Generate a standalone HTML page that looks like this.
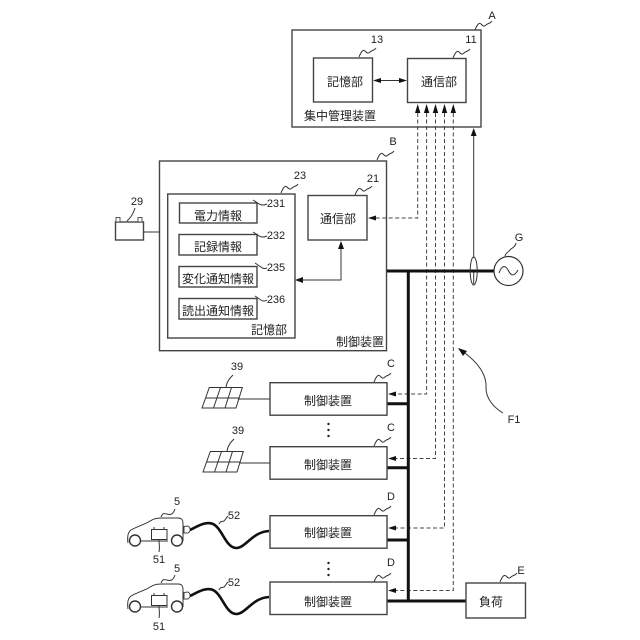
<!DOCTYPE html>
<html><head><meta charset="utf-8">
<style>
html,body{margin:0;padding:0;background:#fff;width:640px;height:640px;overflow:hidden}
svg{display:block}
text{fill:#222}
.j{font-family:"Liberation Sans","Noto Sans CJK JP",sans-serif;font-size:12px;text-anchor:middle}
.n{font-family:"Liberation Sans",sans-serif;font-size:11px;text-anchor:middle}
.b{fill:#fff;stroke:#444;stroke-width:1.4}
.l{fill:none;stroke:#333;stroke-width:1}
.t{fill:none;stroke:#111;stroke-width:3}
.d{fill:none;stroke:#444;stroke-width:1;stroke-dasharray:4 2.5}
.a{fill:#111;stroke:none}
.c{fill:none;stroke:#111;stroke-width:2.6}
</style></head><body>
<svg width="640" height="640" viewBox="0 0 640 640" xmlns="http://www.w3.org/2000/svg">
<defs>
<rect id="dev" class="b" x="270" y="0" width="117" height="32.5"/>
<path id="w" class="l" d="M0 0C2 -5 4 -8 6 -6C8 -4 9 -3 11 -5C13 -7 15 -6 17 -9"/>
<g id="solar"><path class="l" stroke-width="1.1" d="M209.3 387.5H242.3L236 408H202ZM205.8 398H239M220.5 387.5L213.5 408M231.5 387.5L225 408"/></g>
<g id="car">
<path class="l" stroke-width="1.1" d="M128 543C127 536 128 532 131 530C138 526 146 524 150 521C155 518 158 518 163 518L178 518C182 518 183 520 183 524L183 541"/>
<path class="l" d="M137 541H168"/>
<circle cx="135" cy="540.500" r="5.500" fill="#fff" stroke="#333" stroke-width="1.4"/>
<circle cx="177" cy="540.500" r="5.500" fill="#fff" stroke="#333" stroke-width="1.4"/>
<rect x="151.500" y="529.500" width="15.500" height="10" fill="#fff" stroke="#333" stroke-width="1"/>
<path class="l" d="M154 529.500V527M164 529.500V527M159 539.500C159 544 160 547 159 552"/>
<path fill="#fff" stroke="#444" stroke-width="1" d="M184 526.500L188 526C191 528 191 531 188 533L184 533Z"/>
<path class="c" d="M190 530C198 526 206 521 213 524C222 528 226 548 236 548C246 548 252 532 269 531"/>
<path class="l" d="M161 517C163 512 165 514 167 514C170 515 173 515 175 509"/>
<path class="l" d="M219 524C221 520 222 522 224 521C226 519 226 518 228 516"/>
</g>
</defs>

<!-- A -->
<rect class="b" x="292" y="30" width="189" height="97"/>
<rect class="b" x="313.500" y="58" width="59" height="44"/>
<rect class="b" x="407.500" y="58.500" width="58.500" height="44"/>
<text class="j" x="345" y="86">記憶部</text>
<text class="j" x="439" y="86">通信部</text>
<text class="j" x="340" y="120">集中管理装置</text>
<text class="n" x="492" y="19">A</text>
<text class="n" x="377" y="43">13</text>
<text class="n" x="471" y="43">11</text>
<use href="#w" x="475" y="30"/>
<use href="#w" x="359" y="57"/>
<use href="#w" x="453" y="58"/>
<use href="#w" x="377" y="160"/>
<path class="l" stroke-width="1.2" d="M376 80.500H404"/>
<path class="a" d="M373 80.500L381 78V83ZM407 80.500L399 78V83Z"/>

<!-- B -->
<rect class="b" x="159.500" y="161" width="227" height="189.700"/>
<rect class="b" x="167.700" y="194" width="127.300" height="144"/>
<rect class="b" x="308" y="195.500" width="59" height="44.500"/>
<text class="j" x="338" y="223">通信部</text>
<rect class="b" x="179.500" y="203" width="77.500" height="20"/>
<rect class="b" x="179" y="234.500" width="78" height="20.500"/>
<rect class="b" x="179" y="266.500" width="78" height="20.500"/>
<rect class="b" x="179" y="298.500" width="78" height="20.500"/>
<text class="j" x="218" y="220">電力情報</text>
<text class="j" x="218" y="251">記録情報</text>
<text class="j" x="218" y="283">変化通知情報</text>
<text class="j" x="218" y="315">読出通知情報</text>
<text class="j" x="269" y="334">記憶部</text>
<text class="j" x="360" y="346">制御装置</text>
<text class="n" x="393" y="145">B</text>
<text class="n" x="300" y="179">23</text>
<text class="n" x="373" y="182">21</text>
<text class="n" x="276" y="207">231</text>
<text class="n" x="276" y="239">232</text>
<text class="n" x="276" y="271">235</text>
<text class="n" x="276" y="303">236</text>
<text class="n" x="137" y="205">29</text>
<use href="#w" x="281" y="193"/>
<use href="#w" x="355" y="195"/>
<path class="l" stroke="#666" d="M253 200C258 203 261 207 267 204M253 232C258 235 261 239 267 236M255 263C260 266 263 270 267 268M255 296C260 299 263 303 267 300"/>
<path class="l" stroke-width="1.2" d="M300 280H341V248"/>
<path class="a" d="M295 280L303 277V283ZM341 241L338 249H344Z"/>

<!-- dashed -->
<path class="d" d="M417.700 113V218H375"/>
<path class="d" d="M426.600 113V394H394"/>
<path class="d" d="M435.500 113V458.500H394"/>
<path class="d" d="M444.500 113V528H394"/>
<path class="d" d="M453.300 113V590.500H394"/>
<path class="a" d="M417.700 104L415 113H420.400ZM426.600 104L423.900 113H429.300ZM435.500 104L432.800 113H438.200ZM444.500 104L441.800 113H447.200ZM453.300 104L450.600 113H456Z"/>
<path class="l" stroke-width="1.1" d="M473.700 134V258M473.700 284V271"/>
<path class="a" d="M473.700 128L470.800 136H476.600Z"/>
<path class="a" d="M368 218L376 215.500V220.500ZM388 394L396 391.500V396.500ZM388 458.500L396 456V461ZM388 528L396 525.500V530.500ZM388 590.500L396 588V593Z"/>

<!-- battery 29 -->
<rect class="b" x="115.500" y="222" width="28" height="18"/>
<rect x="116" y="217.500" width="4" height="4.500" fill="#fff" stroke="#444" stroke-width=".9"/>
<rect x="138" y="217.500" width="4" height="4.500" fill="#fff" stroke="#444" stroke-width=".9"/>
<path class="l" d="M143.500 232H159.500M127 221C130 218 133 215 135 208"/>

<!-- bus -->
<path class="t" d="M387 271H494"/>
<path class="t" d="M408.300 270V602"/>
<path class="t" d="M387 403.700H408M387 467.700H408M387 540H408M387 601H466"/>
<ellipse cx="473.700" cy="271" rx="3.500" ry="14" fill="none" stroke="#333" stroke-width="1"/>
<circle cx="508.500" cy="271" r="14.500" fill="#fff" stroke="#333" stroke-width="1.2"/>
<path class="l" d="M499 273C502 265 505 265 508 270C511 276 514 277 518 270"/>
<path class="l" d="M505 256C506 252 509 252 510 250C511 248 515 248 516 243"/>
<text class="n" x="519" y="241">G</text>

<!-- F1 -->
<path class="l" stroke-width="1.1" d="M503 413C493 407 486 398 486 388C487 375 478 362 462 351"/>
<path class="a" d="M458 348L467 351L463 356Z"/>
<text class="n" x="514" y="423">F1</text>

<!-- C -->
<use href="#dev" y="382.700"/>
<use href="#dev" y="446.700"/>
<text class="j" x="328" y="405">制御装置</text>
<text class="j" x="328" y="469">制御装置</text>
<use href="#solar"/>
<use href="#solar" x="1" y="64"/>
<path class="l" d="M238 399H270M240 463H270"/>
<path class="l" d="M226 387C227 381 230 378 233 375M227 451C228 445 231 442 234 439"/>
<text class="n" x="237" y="370">39</text>
<text class="n" x="238" y="434">39</text>
<use href="#w" x="374" y="382"/>
<use href="#w" x="374" y="446"/>
<text class="n" x="391" y="367">C</text>
<text class="n" x="391" y="431">C</text>
<circle cx="328.500" cy="424" r="1.200" fill="#222"/><circle cx="328.500" cy="430" r="1.200" fill="#222"/><circle cx="328.500" cy="436" r="1.200" fill="#222"/>

<!-- D -->
<use href="#dev" y="515.700"/>
<use href="#dev" y="582"/>
<text class="j" x="328" y="537">制御装置</text>
<text class="j" x="328" y="606">制御装置</text>
<use href="#car"/>
<use href="#car" y="66"/>
<text class="n" x="177" y="505">5</text>
<text class="n" x="177" y="572">5</text>
<text class="n" x="234" y="519">52</text>
<text class="n" x="234" y="586">52</text>
<text class="n" x="159" y="563">51</text>
<text class="n" x="159" y="630">51</text>
<use href="#w" x="374" y="515"/>
<use href="#w" x="374" y="582"/>
<text class="n" x="391" y="500">D</text>
<text class="n" x="391" y="566">D</text>
<circle cx="328.500" cy="563" r="1.200" fill="#222"/><circle cx="328.500" cy="569" r="1.200" fill="#222"/><circle cx="328.500" cy="575" r="1.200" fill="#222"/>

<!-- E -->
<rect class="b" x="466" y="583" width="59.500" height="35"/>
<text class="j" x="491" y="606">負荷</text>
<use href="#w" x="500" y="582"/>
<text class="n" x="521" y="574">E</text>
</svg>
</body></html>
